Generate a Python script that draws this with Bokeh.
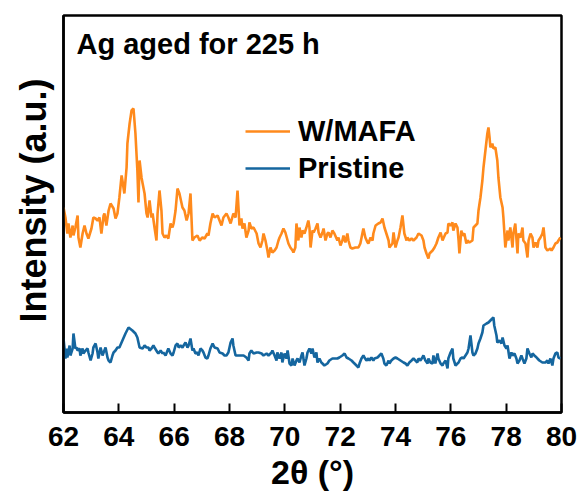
from bokeh.plotting import figure
from bokeh.models import Legend, LegendItem, Label, Title, FixedTicker
from bokeh.embed import file_html
from bokeh.resources import INLINE

# ---------------- data ----------------
two_theta_mafa = [
    62.00, 62.07, 62.14, 62.18, 62.25, 62.33, 62.36, 62.43, 62.51, 62.54,
    62.61, 62.69, 62.76, 62.83, 62.90, 63.01, 63.08, 63.16, 63.23, 63.30,
    63.37, 63.45, 63.48, 63.55, 63.63, 63.70, 63.81, 63.88, 63.95, 64.02,
    64.10, 64.13, 64.20, 64.28, 64.31, 64.39, 64.46, 64.53, 64.60, 64.67,
    64.71, 64.75, 64.82, 64.86, 64.93, 65.00, 65.04, 65.11, 65.18, 65.22,
    65.29, 65.36, 65.40, 65.47, 65.54, 65.58, 65.65, 65.72, 65.79, 65.87,
    65.94, 65.98, 66.05, 66.12, 66.19, 66.30, 66.37, 66.45, 66.52, 66.59,
    66.66, 66.73, 66.84, 66.92, 67.02, 67.10, 67.20, 67.24, 67.31, 67.39,
    67.46, 67.57, 67.64, 67.71, 67.78, 67.89, 67.96, 68.04, 68.14, 68.22,
    68.29, 68.36, 68.43, 68.47, 68.54, 68.61, 68.69, 68.72, 68.79, 68.87,
    68.98, 69.05, 69.12, 69.19, 69.23, 69.30, 69.37, 69.41, 69.48, 69.55,
    69.63, 69.70, 69.77, 69.81, 69.88, 69.95, 70.02, 70.10, 70.13, 70.20,
    70.28, 70.31, 70.38, 70.42, 70.49, 70.53, 70.60, 70.64, 70.71, 70.78,
    70.85, 70.89, 70.93, 71.00, 71.04, 71.11, 71.18, 71.22, 71.29, 71.36,
    71.40, 71.47, 71.54, 71.58, 71.65, 71.72, 71.79, 71.90, 71.94, 72.01,
    72.08, 72.12, 72.19, 72.26, 72.30, 72.37, 72.44, 72.55, 72.66, 72.73,
    72.81, 72.84, 72.91, 72.99, 73.02, 73.10, 73.17, 73.20, 73.28, 73.38,
    73.46, 73.53, 73.60, 73.67, 73.75, 73.78, 73.89, 73.93, 74.00, 74.07,
    74.11, 74.18, 74.25, 74.32, 74.40, 74.43, 74.50, 74.58, 74.65, 74.76,
    74.83, 74.94, 75.01, 75.05, 75.12, 75.19, 75.23, 75.34, 75.41, 75.48,
    75.55, 75.63, 75.70, 75.73, 75.81, 75.88, 75.91, 75.99, 76.06, 76.09,
    76.17, 76.24, 76.28, 76.31, 76.38, 76.42, 76.49, 76.56, 76.60, 76.67,
    76.78, 76.82, 76.89, 76.96, 77.00, 77.07, 77.14, 77.18, 77.25, 77.32,
    77.36, 77.40, 77.43, 77.50, 77.54, 77.61, 77.68, 77.72, 77.79, 77.87,
    77.90, 77.97, 78.05, 78.08, 78.15, 78.23, 78.26, 78.33, 78.41, 78.44,
    78.52, 78.59, 78.62, 78.70, 78.77, 78.81, 78.88, 78.95, 78.99, 79.06,
    79.13, 79.17, 79.24, 79.31, 79.35, 79.42, 79.49, 79.60, 79.64, 79.71,
    79.78, 79.85, 79.89, 79.96,
]
intensity_mafa = [
    205, 195, 179, 189, 175, 187, 177, 185, 197, 175,
    165, 179, 187, 179, 174, 184, 195, 194, 192, 195,
    179, 197, 199, 187, 202, 209, 204, 194, 199, 215,
    237, 232, 219, 245, 269, 289, 302, 304, 279, 242,
    210, 252, 235, 229, 219, 199, 195, 212, 195, 199,
    185, 172, 199, 222, 202, 179, 175, 177, 174, 189,
    185, 189, 202, 224, 219, 205, 202, 192, 199, 219,
    172, 175, 177, 172, 175, 174, 179, 177, 189, 199,
    195, 197, 192, 187, 195, 199, 195, 189, 199, 195,
    222, 187, 194, 184, 189, 175, 182, 190, 184, 185,
    179, 169, 165, 172, 179, 172, 162, 155, 165, 160,
    162, 165, 172, 175, 179, 184, 180, 172, 169, 165,
    162, 160, 165, 189, 172, 185, 175, 182, 179, 185,
    192, 185, 165, 182, 180, 184, 189, 180, 175, 180,
    184, 172, 179, 180, 175, 182, 179, 172, 175, 167,
    172, 177, 170, 179, 172, 165, 164, 165, 165, 169,
    180, 184, 175, 170, 169, 175, 172, 179, 187, 189,
    190, 194, 185, 179, 172, 165, 169, 180, 165, 172,
    175, 185, 197, 179, 172, 175, 172, 174, 172, 175,
    179, 177, 172, 165, 159, 154, 159, 162, 165, 169,
    175, 180, 172, 174, 179, 180, 189, 187, 190, 182,
    189, 185, 172, 159, 182, 177, 179, 169, 172, 170,
    172, 185, 187, 189, 202, 215, 232, 245, 262, 279,
    285, 275, 265, 269, 264, 265, 252, 235, 215, 205,
    195, 165, 182, 172, 185, 165, 179, 189, 159, 179,
    175, 185, 172, 169, 155, 172, 179, 175, 165, 170,
    165, 172, 175, 179, 185, 165, 162, 164, 162, 165,
    169, 170, 172, 175,
]

two_theta_pristine = [
    62.00, 62.07, 62.11, 62.14, 62.22, 62.25, 62.33, 62.36, 62.43, 62.47,
    62.51, 62.58, 62.61, 62.69, 62.72, 62.80, 62.87, 62.90, 62.98, 63.05,
    63.08, 63.16, 63.23, 63.26, 63.34, 63.41, 63.45, 63.52, 63.59, 63.63,
    63.70, 63.77, 63.81, 63.88, 63.95, 64.02, 64.13, 64.24, 64.35, 64.49,
    64.60, 64.67, 64.75, 64.86, 64.93, 65.00, 65.07, 65.11, 65.18, 65.25,
    65.29, 65.40, 65.43, 65.51, 65.58, 65.61, 65.69, 65.76, 65.79, 65.87,
    65.94, 65.98, 66.05, 66.12, 66.16, 66.23, 66.30, 66.34, 66.41, 66.48,
    66.52, 66.59, 66.66, 66.70, 66.77, 66.84, 66.88, 66.95, 67.02, 67.06,
    67.13, 67.20, 67.24, 67.31, 67.39, 67.46, 67.57, 67.64, 67.75, 67.82,
    67.89, 67.96, 68.04, 68.11, 68.14, 68.22, 68.32, 68.40, 68.51, 68.61,
    68.69, 68.72, 68.79, 68.87, 68.98, 69.05, 69.16, 69.23, 69.34, 69.41,
    69.52, 69.55, 69.63, 69.70, 69.73, 69.81, 69.88, 69.91, 69.99, 70.06,
    70.10, 70.17, 70.24, 70.28, 70.35, 70.42, 70.46, 70.53, 70.60, 70.64,
    70.71, 70.78, 70.82, 70.89, 70.96, 71.00, 71.07, 71.14, 71.18, 71.25,
    71.32, 71.36, 71.43, 71.54, 71.61, 71.72, 71.79, 71.90, 71.97, 72.08,
    72.16, 72.23, 72.30, 72.41, 72.48, 72.59, 72.66, 72.70, 72.77, 72.84,
    72.88, 72.95, 73.02, 73.06, 73.13, 73.20, 73.24, 73.35, 73.42, 73.49,
    73.56, 73.60, 73.67, 73.75, 73.78, 73.85, 73.93, 74.00, 74.07, 74.18,
    74.29, 74.36, 74.43, 74.50, 74.58, 74.65, 74.72, 74.79, 74.83, 74.90,
    74.97, 75.01, 75.08, 75.16, 75.19, 75.26, 75.34, 75.37, 75.44, 75.52,
    75.55, 75.63, 75.70, 75.73, 75.81, 75.88, 75.91, 75.99, 76.06, 76.09,
    76.17, 76.24, 76.28, 76.35, 76.42, 76.46, 76.53, 76.60, 76.64, 76.71,
    76.78, 76.82, 76.89, 76.96, 77.00, 77.07, 77.14, 77.18, 77.29, 77.36,
    77.43, 77.50, 77.54, 77.57, 77.65, 77.68, 77.76, 77.83, 77.87, 77.94,
    78.01, 78.05, 78.12, 78.19, 78.23, 78.30, 78.37, 78.41, 78.48, 78.55,
    78.59, 78.66, 78.73, 78.77, 78.84, 78.91, 78.95, 79.02, 79.10, 79.13,
    79.20, 79.31, 79.42, 79.49, 79.53, 79.60, 79.67, 79.71, 79.78, 79.85,
    79.89, 79.96,
]
intensity_pristine = [
    74, 54, 64, 55, 67, 57, 64, 79, 64, 65,
    62, 64, 57, 64, 59, 62, 64, 60, 52, 59,
    65, 69, 60, 54, 65, 57, 60, 65, 55, 52,
    50, 57, 60, 62, 65, 65, 72, 79, 85, 82,
    79, 75, 65, 64, 67, 65, 65, 62, 64, 67,
    65, 60, 59, 62, 59, 60, 57, 62, 64, 59,
    57, 60, 67, 69, 65, 67, 65, 67, 70, 65,
    67, 74, 62, 64, 59, 60, 57, 64, 62, 60,
    55, 54, 57, 64, 69, 65, 64, 60, 59, 57,
    57, 60, 70, 74, 67, 57, 57, 57, 57, 55,
    52, 59, 62, 59, 60, 60, 59, 57, 59, 57,
    60, 62, 57, 52, 60, 54, 60, 50, 59, 54,
    62, 49, 47, 54, 47, 52, 54, 50, 57, 60,
    47, 54, 60, 64, 59, 64, 55, 60, 50, 54,
    50, 49, 47, 49, 52, 54, 54, 54, 55, 57,
    59, 55, 54, 52, 50, 47, 45, 49, 54, 57,
    55, 52, 54, 52, 55, 52, 54, 55, 57, 59,
    54, 49, 47, 52, 49, 52, 54, 55, 54, 52,
    50, 49, 47, 50, 52, 54, 52, 50, 54, 52,
    55, 57, 52, 49, 54, 50, 49, 57, 49, 59,
    54, 49, 47, 49, 52, 44, 54, 60, 64, 54,
    47, 49, 50, 54, 55, 54, 57, 60, 64, 77,
    60, 57, 59, 64, 69, 74, 80, 87, 89, 90,
    92, 94, 95, 87, 77, 70, 72, 69, 75, 67,
    64, 67, 54, 60, 57, 59, 54, 49, 52, 57,
    54, 49, 54, 64, 59, 55, 59, 57, 55, 54,
    52, 50, 50, 52, 49, 54, 47, 54, 59, 60,
    55, 54,
]

x_ticks = [62, 64, 66, 68, 70, 72, 74, 76, 78, 80]
series_labels = ["W/MAFA", "Pristine"]
chart_note = "Ag aged for 225 h"
x_label = "2θ (°)"
y_label = "Intensity (a.u.)"

FONT = "Liberation Sans"
ORANGE = "#FF8A1C"
BLUE = "#15669F"

# ---------------- figure ----------------
p = figure(width=579, height=502, x_range=(62, 80), y_range=(0, 397),
           output_backend="svg", toolbar_location=None, title=None,
           min_border_left=63, min_border_right=18,
           min_border_top=15, min_border_bottom=90)
p.grid.visible = False
p.background_fill_color = "white"
p.border_fill_color = "white"
p.outline_line_color = "black"
p.outline_line_width = 2.5

r1 = p.line(two_theta_mafa, intensity_mafa, line_color=ORANGE, line_width=2.6)
r2 = p.line(two_theta_pristine, intensity_pristine, line_color=BLUE, line_width=2.6)

xa = p.xaxis[0]
xa.ticker = FixedTicker(ticks=x_ticks)
xa.minor_tick_line_color = None
xa.major_tick_in = 9
xa.major_tick_out = 0
xa.major_tick_line_width = 2
xa.major_tick_line_color = "black"
xa.axis_line_width = 2.5
xa.axis_line_color = "black"
xa.major_label_text_font = FONT
xa.major_label_text_font_size = "28px"
xa.major_label_text_font_style = "bold"
xa.major_label_text_color = "black"
xa.major_label_standoff = 14
xa.axis_label = x_label
xa.axis_label_text_font = FONT
xa.axis_label_text_font_size = "34px"
xa.axis_label_text_font_style = "bold"
xa.axis_label_text_color = "black"
xa.axis_label_standoff = 4

ya = p.yaxis[0]
ya.ticker = FixedTicker(ticks=[])
ya.major_tick_in = 0
ya.major_tick_out = 0
ya.minor_tick_line_color = None
ya.major_label_text_font_size = "0px"
ya.axis_line_width = 2.5
ya.axis_line_color = "black"

ytitle = Title(text=y_label, align="left", offset=90, standoff=20,
               text_font=FONT, text_font_size="36px", text_font_style="bold",
               text_color="black")
p.add_layout(ytitle, "left")

note = Label(x=62.47, y=369, text=chart_note, text_baseline="middle",
             text_font=FONT, text_font_size="29px", text_font_style="bold",
             text_color="black")
p.add_layout(note)

legend = Legend(items=[LegendItem(label=series_labels[0], renderers=[r1]),
                       LegendItem(label=series_labels[1], renderers=[r2])],
                location=(182, 227), orientation="vertical",
                background_fill_alpha=0, border_line_alpha=0,
                padding=0, margin=0, spacing=3,
                glyph_width=45, glyph_height=34, label_height=34,
                label_standoff=8,
                label_text_font=FONT, label_text_font_size="29px",
                label_text_font_style="bold", label_text_color="black",
                label_text_baseline="middle")
p.add_layout(legend)

open("out.html", "w").write(file_html(p, INLINE))
